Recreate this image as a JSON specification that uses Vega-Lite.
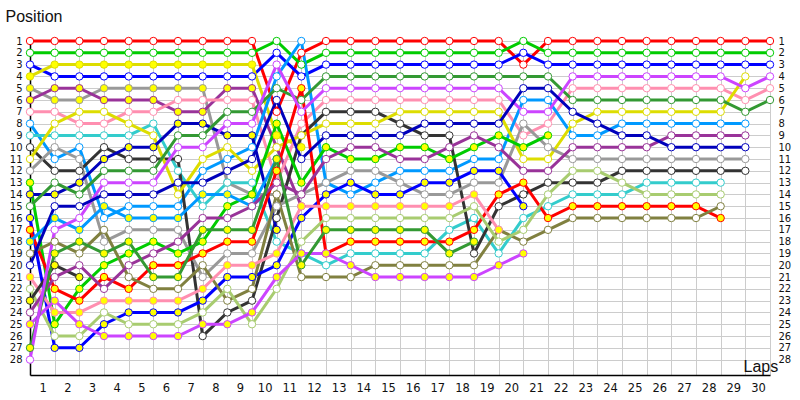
{
"$schema": "https://vega.github.io/schema/vega-lite/v6.json",
"width": 740, "height": 334,
"autosize": "none",
"padding": {"left": 30, "top": 41, "right": 30, "bottom": 25},
"background": "white",
"config": {"view": {"stroke": null}, "font": "Liberation Sans"},
"datasets": {"drivers": [
{"d":"RW","l":0,"p":1},{"d":"RW","l":1,"p":1},{"d":"RW","l":2,"p":1},{"d":"RW","l":3,"p":1},{"d":"RW","l":4,"p":1},{"d":"RW","l":5,"p":1},{"d":"RW","l":6,"p":1},{"d":"RW","l":7,"p":1},{"d":"RW","l":8,"p":1},{"d":"RW","l":9,"p":1},{"d":"RW","l":10,"p":7},{"d":"RW","l":11,"p":2},{"d":"RW","l":12,"p":1},{"d":"RW","l":13,"p":1},{"d":"RW","l":14,"p":1},{"d":"RW","l":15,"p":1},{"d":"RW","l":16,"p":1},{"d":"RW","l":17,"p":1},{"d":"RW","l":18,"p":1},{"d":"RW","l":19,"p":1},{"d":"RW","l":20,"p":3},{"d":"RW","l":21,"p":1},{"d":"RW","l":22,"p":1},{"d":"RW","l":23,"p":1},{"d":"RW","l":24,"p":1},{"d":"RW","l":25,"p":1},{"d":"RW","l":26,"p":1},{"d":"RW","l":27,"p":1},{"d":"RW","l":28,"p":1},{"d":"RW","l":29,"p":1},{"d":"RW","l":30,"p":1},
{"d":"GW","l":0,"p":2},{"d":"GW","l":1,"p":2},{"d":"GW","l":2,"p":2},{"d":"GW","l":3,"p":2},{"d":"GW","l":4,"p":2},{"d":"GW","l":5,"p":2},{"d":"GW","l":6,"p":2},{"d":"GW","l":7,"p":2},{"d":"GW","l":8,"p":2},{"d":"GW","l":9,"p":2},{"d":"GW","l":10,"p":1},{"d":"GW","l":11,"p":3},{"d":"GW","l":12,"p":2},{"d":"GW","l":13,"p":2},{"d":"GW","l":14,"p":2},{"d":"GW","l":15,"p":2},{"d":"GW","l":16,"p":2},{"d":"GW","l":17,"p":2},{"d":"GW","l":18,"p":2},{"d":"GW","l":19,"p":2},{"d":"GW","l":20,"p":1},{"d":"GW","l":21,"p":2},{"d":"GW","l":22,"p":2},{"d":"GW","l":23,"p":2},{"d":"GW","l":24,"p":2},{"d":"GW","l":25,"p":2},{"d":"GW","l":26,"p":2},{"d":"GW","l":27,"p":2},{"d":"GW","l":28,"p":2},{"d":"GW","l":29,"p":2},{"d":"GW","l":30,"p":2},
{"d":"BW","l":0,"p":3},{"d":"BW","l":1,"p":4},{"d":"BW","l":2,"p":4},{"d":"BW","l":3,"p":4},{"d":"BW","l":4,"p":4},{"d":"BW","l":5,"p":4},{"d":"BW","l":6,"p":4},{"d":"BW","l":7,"p":4},{"d":"BW","l":8,"p":4},{"d":"BW","l":9,"p":4},{"d":"BW","l":10,"p":2},{"d":"BW","l":11,"p":4},{"d":"BW","l":12,"p":3},{"d":"BW","l":13,"p":3},{"d":"BW","l":14,"p":3},{"d":"BW","l":15,"p":3},{"d":"BW","l":16,"p":3},{"d":"BW","l":17,"p":3},{"d":"BW","l":18,"p":3},{"d":"BW","l":19,"p":3},{"d":"BW","l":20,"p":2},{"d":"BW","l":21,"p":3},{"d":"BW","l":22,"p":3},{"d":"BW","l":23,"p":3},{"d":"BW","l":24,"p":3},{"d":"BW","l":25,"p":3},{"d":"BW","l":26,"p":3},{"d":"BW","l":27,"p":3},{"d":"BW","l":28,"p":3},{"d":"BW","l":29,"p":3},{"d":"BW","l":30,"p":3},
{"d":"YY","l":0,"p":4},{"d":"YY","l":1,"p":3},{"d":"YY","l":2,"p":3},{"d":"YY","l":3,"p":3},{"d":"YY","l":4,"p":3},{"d":"YY","l":5,"p":3},{"d":"YY","l":6,"p":3},{"d":"YY","l":7,"p":3},{"d":"YY","l":8,"p":3},{"d":"YY","l":9,"p":3},{"d":"YY","l":10,"p":9},{"d":"YY","l":11,"p":10},
{"d":"GrY","l":0,"p":5},{"d":"GrY","l":1,"p":6},{"d":"GrY","l":2,"p":6},{"d":"GrY","l":3,"p":5},{"d":"GrY","l":4,"p":5},{"d":"GrY","l":5,"p":5},{"d":"GrY","l":6,"p":5},{"d":"GrY","l":7,"p":5},{"d":"GrY","l":8,"p":13},{"d":"GrY","l":9,"p":14},{"d":"GrY","l":10,"p":14},
{"d":"PuY","l":0,"p":6},{"d":"PuY","l":1,"p":5},{"d":"PuY","l":2,"p":5},{"d":"PuY","l":3,"p":6},{"d":"PuY","l":4,"p":6},{"d":"PuY","l":5,"p":6},{"d":"PuY","l":6,"p":7},{"d":"PuY","l":7,"p":7},{"d":"PuY","l":8,"p":5},{"d":"PuY","l":9,"p":5},{"d":"PuY","l":10,"p":10},{"d":"PuY","l":11,"p":15},
{"d":"PkW","l":0,"p":7},{"d":"PkW","l":1,"p":7},{"d":"PkW","l":2,"p":8},{"d":"PkW","l":3,"p":8},{"d":"PkW","l":4,"p":7},{"d":"PkW","l":5,"p":7},{"d":"PkW","l":6,"p":6},{"d":"PkW","l":7,"p":6},{"d":"PkW","l":8,"p":6},{"d":"PkW","l":9,"p":6},{"d":"PkW","l":10,"p":13},{"d":"PkW","l":11,"p":8},{"d":"PkW","l":12,"p":6},{"d":"PkW","l":13,"p":6},{"d":"PkW","l":14,"p":6},{"d":"PkW","l":15,"p":6},{"d":"PkW","l":16,"p":6},{"d":"PkW","l":17,"p":6},{"d":"PkW","l":18,"p":6},{"d":"PkW","l":19,"p":6},{"d":"PkW","l":20,"p":9},{"d":"PkW","l":21,"p":8},{"d":"PkW","l":22,"p":5},{"d":"PkW","l":23,"p":5},{"d":"PkW","l":24,"p":5},{"d":"PkW","l":25,"p":5},{"d":"PkW","l":26,"p":5},{"d":"PkW","l":27,"p":5},{"d":"PkW","l":28,"p":5},{"d":"PkW","l":29,"p":6},{"d":"PkW","l":30,"p":5},
{"d":"LbW","l":0,"p":8},{"d":"LbW","l":1,"p":11},{"d":"LbW","l":2,"p":10},{"d":"LbW","l":3,"p":16},{"d":"LbW","l":4,"p":15},{"d":"LbW","l":5,"p":15},{"d":"LbW","l":6,"p":15},{"d":"LbW","l":7,"p":12},{"d":"LbW","l":8,"p":11},{"d":"LbW","l":9,"p":10},{"d":"LbW","l":10,"p":4},{"d":"LbW","l":11,"p":1},{"d":"LbW","l":12,"p":13},{"d":"LbW","l":13,"p":14},{"d":"LbW","l":14,"p":13},{"d":"LbW","l":15,"p":12},{"d":"LbW","l":16,"p":12},{"d":"LbW","l":17,"p":12},{"d":"LbW","l":18,"p":11},{"d":"LbW","l":19,"p":11},{"d":"LbW","l":20,"p":6},{"d":"LbW","l":21,"p":6},{"d":"LbW","l":22,"p":9},{"d":"LbW","l":23,"p":9},{"d":"LbW","l":24,"p":8},{"d":"LbW","l":25,"p":8},{"d":"LbW","l":26,"p":8},{"d":"LbW","l":27,"p":8},{"d":"LbW","l":28,"p":8},{"d":"LbW","l":29,"p":8},
{"d":"CyW","l":0,"p":9},{"d":"CyW","l":1,"p":9},{"d":"CyW","l":2,"p":9},{"d":"CyW","l":3,"p":9},{"d":"CyW","l":4,"p":9},{"d":"CyW","l":5,"p":8},{"d":"CyW","l":6,"p":12},{"d":"CyW","l":7,"p":15},{"d":"CyW","l":8,"p":13},{"d":"CyW","l":9,"p":13},{"d":"CyW","l":10,"p":18},{"d":"CyW","l":11,"p":19},{"d":"CyW","l":12,"p":20},{"d":"CyW","l":13,"p":19},{"d":"CyW","l":14,"p":19},{"d":"CyW","l":15,"p":19},{"d":"CyW","l":16,"p":19},{"d":"CyW","l":17,"p":17},{"d":"CyW","l":18,"p":16},{"d":"CyW","l":19,"p":19},{"d":"CyW","l":20,"p":16},{"d":"CyW","l":21,"p":15},{"d":"CyW","l":22,"p":14},{"d":"CyW","l":23,"p":14},{"d":"CyW","l":24,"p":14},{"d":"CyW","l":25,"p":13},{"d":"CyW","l":26,"p":13},{"d":"CyW","l":27,"p":13},{"d":"CyW","l":28,"p":13},
{"d":"BkW","l":0,"p":10},{"d":"BkW","l":1,"p":12},{"d":"BkW","l":2,"p":12},{"d":"BkW","l":3,"p":10},{"d":"BkW","l":4,"p":11},{"d":"BkW","l":5,"p":11},{"d":"BkW","l":6,"p":11},{"d":"BkW","l":7,"p":26},{"d":"BkW","l":8,"p":24},{"d":"BkW","l":9,"p":23},{"d":"BkW","l":10,"p":16},{"d":"BkW","l":11,"p":9},{"d":"BkW","l":12,"p":7},{"d":"BkW","l":13,"p":7},{"d":"BkW","l":14,"p":7},{"d":"BkW","l":15,"p":8},{"d":"BkW","l":16,"p":9},{"d":"BkW","l":17,"p":9},{"d":"BkW","l":18,"p":19},{"d":"BkW","l":19,"p":15},{"d":"BkW","l":20,"p":14},{"d":"BkW","l":21,"p":13},{"d":"BkW","l":22,"p":13},{"d":"BkW","l":23,"p":13},{"d":"BkW","l":24,"p":12},{"d":"BkW","l":25,"p":12},{"d":"BkW","l":26,"p":12},{"d":"BkW","l":27,"p":12},{"d":"BkW","l":28,"p":12},{"d":"BkW","l":29,"p":12},
{"d":"YW","l":0,"p":11},{"d":"YW","l":1,"p":8},{"d":"YW","l":2,"p":7},{"d":"YW","l":3,"p":7},{"d":"YW","l":4,"p":8},{"d":"YW","l":5,"p":9},{"d":"YW","l":6,"p":14},{"d":"YW","l":7,"p":11},{"d":"YW","l":8,"p":10},{"d":"YW","l":9,"p":12},{"d":"YW","l":10,"p":10},{"d":"YW","l":11,"p":9},{"d":"YW","l":12,"p":8},{"d":"YW","l":13,"p":8},{"d":"YW","l":14,"p":8},{"d":"YW","l":15,"p":7},{"d":"YW","l":16,"p":7},{"d":"YW","l":17,"p":7},{"d":"YW","l":18,"p":7},{"d":"YW","l":19,"p":7},{"d":"YW","l":20,"p":11},{"d":"YW","l":21,"p":11},{"d":"YW","l":22,"p":8},{"d":"YW","l":23,"p":7},{"d":"YW","l":24,"p":7},{"d":"YW","l":25,"p":7},{"d":"YW","l":26,"p":7},{"d":"YW","l":27,"p":7},{"d":"YW","l":28,"p":7},{"d":"YW","l":29,"p":4},
{"d":"GrW","l":0,"p":12},{"d":"GrW","l":1,"p":10},{"d":"GrW","l":2,"p":11},{"d":"GrW","l":3,"p":18},{"d":"GrW","l":4,"p":17},{"d":"GrW","l":5,"p":17},{"d":"GrW","l":6,"p":17},{"d":"GrW","l":7,"p":21},{"d":"GrW","l":8,"p":19},{"d":"GrW","l":9,"p":19},{"d":"GrW","l":10,"p":15},{"d":"GrW","l":11,"p":14},{"d":"GrW","l":12,"p":13},{"d":"GrW","l":13,"p":12},{"d":"GrW","l":14,"p":12},{"d":"GrW","l":15,"p":13},{"d":"GrW","l":16,"p":14},{"d":"GrW","l":17,"p":14},{"d":"GrW","l":18,"p":13},{"d":"GrW","l":19,"p":13},{"d":"GrW","l":20,"p":8},{"d":"GrW","l":21,"p":10},{"d":"GrW","l":22,"p":11},{"d":"GrW","l":23,"p":11},{"d":"GrW","l":24,"p":11},{"d":"GrW","l":25,"p":11},{"d":"GrW","l":26,"p":11},{"d":"GrW","l":27,"p":11},{"d":"GrW","l":28,"p":11},{"d":"GrW","l":29,"p":11},
{"d":"GnY","l":0,"p":13},{"d":"GnY","l":1,"p":25},{"d":"GnY","l":2,"p":22},{"d":"GnY","l":3,"p":20},{"d":"GnY","l":4,"p":19},{"d":"GnY","l":5,"p":18},{"d":"GnY","l":6,"p":19},{"d":"GnY","l":7,"p":18},{"d":"GnY","l":8,"p":15},{"d":"GnY","l":9,"p":14},{"d":"GnY","l":10,"p":8},{"d":"GnY","l":11,"p":13},{"d":"GnY","l":12,"p":10},{"d":"GnY","l":13,"p":11},{"d":"GnY","l":14,"p":11},{"d":"GnY","l":15,"p":10},{"d":"GnY","l":16,"p":10},{"d":"GnY","l":17,"p":11},{"d":"GnY","l":18,"p":10},{"d":"GnY","l":19,"p":9},{"d":"GnY","l":20,"p":10},{"d":"GnY","l":21,"p":9},
{"d":"DbY","l":0,"p":14},{"d":"DbY","l":1,"p":14},{"d":"DbY","l":2,"p":13},{"d":"DbY","l":3,"p":11},{"d":"DbY","l":4,"p":10},{"d":"DbY","l":5,"p":10},{"d":"DbY","l":6,"p":8},{"d":"DbY","l":7,"p":8},{"d":"DbY","l":8,"p":9},{"d":"DbY","l":9,"p":9},{"d":"DbY","l":10,"p":17},
{"d":"DgW","l":0,"p":15},{"d":"DgW","l":1,"p":13},{"d":"DgW","l":2,"p":14},{"d":"DgW","l":3,"p":12},{"d":"DgW","l":4,"p":12},{"d":"DgW","l":5,"p":12},{"d":"DgW","l":6,"p":9},{"d":"DgW","l":7,"p":9},{"d":"DgW","l":8,"p":7},{"d":"DgW","l":9,"p":7},{"d":"DgW","l":10,"p":5},{"d":"DgW","l":11,"p":6},{"d":"DgW","l":12,"p":4},{"d":"DgW","l":13,"p":4},{"d":"DgW","l":14,"p":4},{"d":"DgW","l":15,"p":4},{"d":"DgW","l":16,"p":4},{"d":"DgW","l":17,"p":4},{"d":"DgW","l":18,"p":4},{"d":"DgW","l":19,"p":4},{"d":"DgW","l":20,"p":4},{"d":"DgW","l":21,"p":4},{"d":"DgW","l":22,"p":6},{"d":"DgW","l":23,"p":6},{"d":"DgW","l":24,"p":6},{"d":"DgW","l":25,"p":6},{"d":"DgW","l":26,"p":6},{"d":"DgW","l":27,"p":6},{"d":"DgW","l":28,"p":6},{"d":"DgW","l":29,"p":7},{"d":"DgW","l":30,"p":6},
{"d":"BY","l":0,"p":16},{"d":"BY","l":1,"p":27},{"d":"BY","l":2,"p":27},{"d":"BY","l":3,"p":25},{"d":"BY","l":4,"p":24},{"d":"BY","l":5,"p":24},{"d":"BY","l":6,"p":24},{"d":"BY","l":7,"p":23},{"d":"BY","l":8,"p":21},{"d":"BY","l":9,"p":21},{"d":"BY","l":10,"p":20},{"d":"BY","l":11,"p":16},{"d":"BY","l":12,"p":14},{"d":"BY","l":13,"p":13},{"d":"BY","l":14,"p":14},{"d":"BY","l":15,"p":14},{"d":"BY","l":16,"p":13},{"d":"BY","l":17,"p":13},{"d":"BY","l":18,"p":12},{"d":"BY","l":19,"p":12},{"d":"BY","l":20,"p":15},
{"d":"RY","l":0,"p":17},{"d":"RY","l":1,"p":22},{"d":"RY","l":2,"p":23},{"d":"RY","l":3,"p":21},{"d":"RY","l":4,"p":22},{"d":"RY","l":5,"p":20},{"d":"RY","l":6,"p":20},{"d":"RY","l":7,"p":19},{"d":"RY","l":8,"p":18},{"d":"RY","l":9,"p":18},{"d":"RY","l":10,"p":12},{"d":"RY","l":11,"p":5},{"d":"RY","l":12,"p":19},{"d":"RY","l":13,"p":18},{"d":"RY","l":14,"p":18},{"d":"RY","l":15,"p":18},{"d":"RY","l":16,"p":18},{"d":"RY","l":17,"p":18},{"d":"RY","l":18,"p":17},{"d":"RY","l":19,"p":14},{"d":"RY","l":20,"p":13},{"d":"RY","l":21,"p":16},{"d":"RY","l":22,"p":15},{"d":"RY","l":23,"p":15},{"d":"RY","l":24,"p":15},{"d":"RY","l":25,"p":15},{"d":"RY","l":26,"p":15},{"d":"RY","l":27,"p":15},{"d":"RY","l":28,"p":16},
{"d":"LbY","l":0,"p":18},{"d":"LbY","l":1,"p":16},{"d":"LbY","l":2,"p":17},{"d":"LbY","l":3,"p":15},{"d":"LbY","l":4,"p":16},{"d":"LbY","l":5,"p":16},{"d":"LbY","l":6,"p":16},{"d":"LbY","l":7,"p":14},{"d":"LbY","l":8,"p":14},{"d":"LbY","l":9,"p":15},{"d":"LbY","l":10,"p":11},
{"d":"OlW","l":0,"p":19},{"d":"OlW","l":1,"p":18},{"d":"OlW","l":2,"p":19},{"d":"OlW","l":3,"p":17},{"d":"OlW","l":4,"p":21},{"d":"OlW","l":5,"p":22},{"d":"OlW","l":6,"p":22},{"d":"OlW","l":7,"p":20},{"d":"OlW","l":8,"p":23},{"d":"OlW","l":9,"p":22},{"d":"OlW","l":10,"p":14},{"d":"OlW","l":11,"p":21},{"d":"OlW","l":12,"p":21},{"d":"OlW","l":13,"p":21},{"d":"OlW","l":14,"p":20},{"d":"OlW","l":15,"p":20},{"d":"OlW","l":16,"p":20},{"d":"OlW","l":17,"p":20},{"d":"OlW","l":18,"p":20},{"d":"OlW","l":19,"p":17},{"d":"OlW","l":20,"p":18},{"d":"OlW","l":21,"p":17},{"d":"OlW","l":22,"p":16},{"d":"OlW","l":23,"p":16},{"d":"OlW","l":24,"p":16},{"d":"OlW","l":25,"p":16},{"d":"OlW","l":26,"p":16},{"d":"OlW","l":27,"p":16},{"d":"OlW","l":28,"p":15},
{"d":"PkY","l":0,"p":21},{"d":"PkY","l":1,"p":24},{"d":"PkY","l":2,"p":24},{"d":"PkY","l":3,"p":23},{"d":"PkY","l":4,"p":23},{"d":"PkY","l":5,"p":23},{"d":"PkY","l":6,"p":23},{"d":"PkY","l":7,"p":22},{"d":"PkY","l":8,"p":20},{"d":"PkY","l":9,"p":20},{"d":"PkY","l":10,"p":19},{"d":"PkY","l":11,"p":15},{"d":"PkY","l":12,"p":15},{"d":"PkY","l":13,"p":15},{"d":"PkY","l":14,"p":15},{"d":"PkY","l":15,"p":15},{"d":"PkY","l":16,"p":15},{"d":"PkY","l":17,"p":15},{"d":"PkY","l":18,"p":14},{"d":"PkY","l":19,"p":17},
{"d":"LoW","l":0,"p":22},{"d":"LoW","l":1,"p":26},{"d":"LoW","l":2,"p":26},{"d":"LoW","l":3,"p":24},{"d":"LoW","l":4,"p":25},{"d":"LoW","l":5,"p":25},{"d":"LoW","l":6,"p":25},{"d":"LoW","l":7,"p":24},{"d":"LoW","l":8,"p":22},{"d":"LoW","l":9,"p":25},{"d":"LoW","l":10,"p":22},{"d":"LoW","l":11,"p":18},{"d":"LoW","l":12,"p":16},{"d":"LoW","l":13,"p":16},{"d":"LoW","l":14,"p":16},{"d":"LoW","l":15,"p":16},{"d":"LoW","l":16,"p":16},{"d":"LoW","l":17,"p":16},{"d":"LoW","l":18,"p":15},{"d":"LoW","l":19,"p":18},{"d":"LoW","l":20,"p":17},{"d":"LoW","l":21,"p":14},{"d":"LoW","l":22,"p":12},{"d":"LoW","l":23,"p":12},{"d":"LoW","l":24,"p":13},{"d":"LoW","l":25,"p":14},{"d":"LoW","l":26,"p":14},{"d":"LoW","l":27,"p":14},{"d":"LoW","l":28,"p":14},
{"d":"BkY","l":0,"p":23},{"d":"BkY","l":1,"p":20},{"d":"BkY","l":2,"p":21},
{"d":"PuW","l":0,"p":24},{"d":"PuW","l":1,"p":21},{"d":"PuW","l":2,"p":20},{"d":"PuW","l":3,"p":22},{"d":"PuW","l":4,"p":20},{"d":"PuW","l":5,"p":19},{"d":"PuW","l":6,"p":18},{"d":"PuW","l":7,"p":16},{"d":"PuW","l":8,"p":16},{"d":"PuW","l":9,"p":15},{"d":"PuW","l":10,"p":13},{"d":"PuW","l":11,"p":14},{"d":"PuW","l":12,"p":11},{"d":"PuW","l":13,"p":10},{"d":"PuW","l":14,"p":10},{"d":"PuW","l":15,"p":11},{"d":"PuW","l":16,"p":11},{"d":"PuW","l":17,"p":10},{"d":"PuW","l":18,"p":9},{"d":"PuW","l":19,"p":10},{"d":"PuW","l":20,"p":12},{"d":"PuW","l":21,"p":12},{"d":"PuW","l":22,"p":10},{"d":"PuW","l":23,"p":10},{"d":"PuW","l":24,"p":10},{"d":"PuW","l":25,"p":10},{"d":"PuW","l":26,"p":9},{"d":"PuW","l":27,"p":9},{"d":"PuW","l":28,"p":9},{"d":"PuW","l":29,"p":9},
{"d":"VY","l":0,"p":25},{"d":"VY","l":1,"p":23},{"d":"VY","l":2,"p":25},{"d":"VY","l":3,"p":26},{"d":"VY","l":4,"p":26},{"d":"VY","l":5,"p":26},{"d":"VY","l":6,"p":26},{"d":"VY","l":7,"p":25},{"d":"VY","l":8,"p":25},{"d":"VY","l":9,"p":24},{"d":"VY","l":10,"p":21},{"d":"VY","l":11,"p":19},{"d":"VY","l":12,"p":19},{"d":"VY","l":13,"p":20},{"d":"VY","l":14,"p":21},{"d":"VY","l":15,"p":21},{"d":"VY","l":16,"p":21},{"d":"VY","l":17,"p":21},{"d":"VY","l":18,"p":21},{"d":"VY","l":19,"p":20},{"d":"VY","l":20,"p":19},
{"d":"DgY","l":0,"p":27},{"d":"DgY","l":1,"p":19},{"d":"DgY","l":2,"p":18},{"d":"DgY","l":3,"p":19},{"d":"DgY","l":4,"p":18},{"d":"DgY","l":5,"p":21},{"d":"DgY","l":6,"p":21},{"d":"DgY","l":7,"p":17},{"d":"DgY","l":8,"p":17},{"d":"DgY","l":9,"p":17},{"d":"DgY","l":10,"p":11},{"d":"DgY","l":11,"p":20},{"d":"DgY","l":12,"p":17},{"d":"DgY","l":13,"p":17},{"d":"DgY","l":14,"p":17},{"d":"DgY","l":15,"p":17},{"d":"DgY","l":16,"p":17},{"d":"DgY","l":17,"p":19},{"d":"DgY","l":18,"p":18},
{"d":"VW","l":0,"p":28},{"d":"VW","l":1,"p":17},{"d":"VW","l":2,"p":16},{"d":"VW","l":3,"p":13},{"d":"VW","l":4,"p":13},{"d":"VW","l":5,"p":13},{"d":"VW","l":6,"p":10},{"d":"VW","l":7,"p":10},{"d":"VW","l":8,"p":8},{"d":"VW","l":9,"p":8},{"d":"VW","l":10,"p":3},{"d":"VW","l":11,"p":7},{"d":"VW","l":12,"p":5},{"d":"VW","l":13,"p":5},{"d":"VW","l":14,"p":5},{"d":"VW","l":15,"p":5},{"d":"VW","l":16,"p":5},{"d":"VW","l":17,"p":5},{"d":"VW","l":18,"p":5},{"d":"VW","l":19,"p":5},{"d":"VW","l":20,"p":7},{"d":"VW","l":21,"p":7},{"d":"VW","l":22,"p":4},{"d":"VW","l":23,"p":4},{"d":"VW","l":24,"p":4},{"d":"VW","l":25,"p":4},{"d":"VW","l":26,"p":4},{"d":"VW","l":27,"p":4},{"d":"VW","l":28,"p":4},{"d":"VW","l":29,"p":5},{"d":"VW","l":30,"p":4},
{"d":"DbW","l":0,"p":20},{"d":"DbW","l":1,"p":15},{"d":"DbW","l":2,"p":15},{"d":"DbW","l":3,"p":14},{"d":"DbW","l":4,"p":14},{"d":"DbW","l":5,"p":14},{"d":"DbW","l":6,"p":13},{"d":"DbW","l":7,"p":13},{"d":"DbW","l":8,"p":12},{"d":"DbW","l":9,"p":11},{"d":"DbW","l":10,"p":6},{"d":"DbW","l":11,"p":11},{"d":"DbW","l":12,"p":9},{"d":"DbW","l":13,"p":9},{"d":"DbW","l":14,"p":9},{"d":"DbW","l":15,"p":9},{"d":"DbW","l":16,"p":8},{"d":"DbW","l":17,"p":8},{"d":"DbW","l":18,"p":8},{"d":"DbW","l":19,"p":8},{"d":"DbW","l":20,"p":5},{"d":"DbW","l":21,"p":5},{"d":"DbW","l":22,"p":7},{"d":"DbW","l":23,"p":8},{"d":"DbW","l":24,"p":9},{"d":"DbW","l":25,"p":9},{"d":"DbW","l":26,"p":10},{"d":"DbW","l":27,"p":10},{"d":"DbW","l":28,"p":10},{"d":"DbW","l":29,"p":10}
]},
"data": {"name": "drivers"},
"encoding": {
  "x": {"field": "l", "type": "quantitative", "scale": {"domain": [0, 30], "nice": false, "zero": false},
    "axis": {"values": [0,1,2,3,4,5,6,7,8,9,10,11,12,13,14,15,16,17,18,19,20,21,22,23,24,25,26,27,28,29,30],
      "labelExpr": "datum.value == 0 ? '' : datum.label", "labelOffset": -12, "labelFlush": false, "labelOverlap": false, "ticks": false, "grid": true, "gridColor": "#cccccc", "gridWidth": 1,
      "domainColor": "#000000", "domainWidth": 1.5, "labelFont": "DejaVu Sans", "labelFontSize": 11.5, "labelColor": "#111111", "labelPadding": 7,
      "title": "Laps", "titleX": 713, "titleY": -4, "titleAlign": "left", "titleBaseline": "alphabetic", "titleFontSize": 16, "titleFontWeight": "normal", "titleColor": "#111111"}}
},
"layer": [
  {"mark": {"type": "line", "strokeWidth": 3},
   "encoding": {
     "y": {"field": "p", "type": "quantitative", "scale": {"domain": [1, 29.3], "reverse": true, "nice": false, "zero": false},
       "axis": {"orient": "left", "values": [1,2,3,4,5,6,7,8,9,10,11,12,13,14,15,16,17,18,19,20,21,22,23,24,25,26,27,28],
         "ticks": false, "grid": true, "gridColor": "#cccccc", "domainColor": "#000000", "domainWidth": 1.5, "labelFont": "DejaVu Sans", "labelFontSize": 10, "labelColor": "#111111", "labelPadding": 8, "labelFlush": false, "labelOverlap": false,
         "title": "Position", "titleAngle": 0, "titleX": -25, "titleY": -20, "titleAlign": "left", "titleBaseline": "alphabetic", "titleFontSize": 16, "titleFontWeight": "normal", "titleColor": "#111111"}},
     "detail": {"field": "d", "type": "nominal"},
     "color": {"field": "d", "type": "nominal", "legend": null,
       "scale": {"domain": ["RW","GW","BW","YY","GrY","PuY","PkW","LbW","CyW","BkW","YW","GrW","GnY","DbY","DgW","BY","RY","LbY","OlW","PkY","LoW","BkY","PuW","VY","DgY","VW","DbW"],
                 "range": ["#ff0000","#00cc00","#0000ff","#dddd00","#999999","#993399","#ff8fb0","#0099ff","#33cccc","#333333","#dddd00","#999999","#00cc00","#0000bb","#339933","#0000ff","#ff0000","#0099ff","#808040","#ff8fb0","#a8cc70","#333333","#993399","#cc44ff","#339933","#cc44ff","#0000bb"]}}
   }},
  {"mark": {"type": "circle", "size": 55, "strokeWidth": 1, "opacity": 1},
   "encoding": {
     "y": {"field": "p", "type": "quantitative",
       "axis": {"orient": "right", "values": [1,2,3,4,5,6,7,8,9,10,11,12,13,14,15,16,17,18,19,20,21,22,23,24,25,26,27,28],
         "ticks": false, "grid": false, "domain": false, "labelFont": "DejaVu Sans", "labelFontSize": 10, "labelColor": "#111111", "labelPadding": 8, "labelFlush": false, "labelOverlap": false, "title": null}},
     "stroke": {"field": "d", "type": "nominal", "legend": null,
       "scale": {"domain": ["RW","GW","BW","YY","GrY","PuY","PkW","LbW","CyW","BkW","YW","GrW","GnY","DbY","DgW","BY","RY","LbY","OlW","PkY","LoW","BkY","PuW","VY","DgY","VW","DbW"],
                 "range": ["#ff0000","#00cc00","#0000ff","#dddd00","#999999","#993399","#ff8fb0","#0099ff","#33cccc","#333333","#dddd00","#999999","#00cc00","#0000bb","#339933","#0000ff","#ff0000","#0099ff","#808040","#ff8fb0","#a8cc70","#333333","#993399","#cc44ff","#339933","#cc44ff","#0000bb"]}},
     "fill": {"field": "d", "type": "nominal", "legend": null,
       "scale": {"domain": ["RW","GW","BW","YY","GrY","PuY","PkW","LbW","CyW","BkW","YW","GrW","GnY","DbY","DgW","BY","RY","LbY","OlW","PkY","LoW","BkY","PuW","VY","DgY","VW","DbW"],
                 "range": ["#ffffff","#ffffff","#ffffff","#ffff00","#ffff00","#ffff00","#ffffff","#ffffff","#ffffff","#ffffff","#ffffff","#ffffff","#ffff00","#ffff00","#ffffff","#ffff00","#ffff00","#ffff00","#ffffff","#ffff00","#ffffff","#ffff00","#ffffff","#ffff00","#ffff00","#ffffff","#ffffff"]}}
   }}
],
"resolve": {"axis": {"y": "independent"}, "scale": {"stroke": "independent", "fill": "independent", "color": "independent"}}
}
